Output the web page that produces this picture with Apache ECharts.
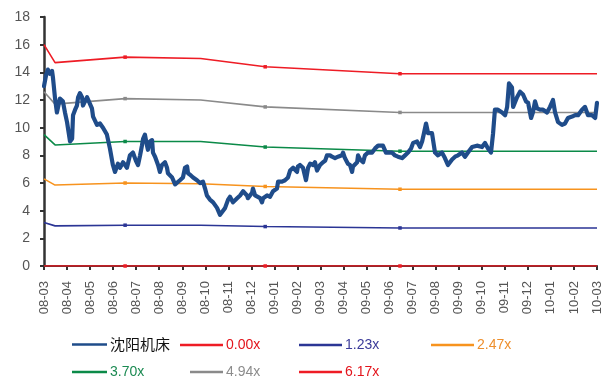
<!DOCTYPE html>
<html><head><meta charset="utf-8">
<script src="https://cdn.jsdelivr.net/npm/echarts@6/dist/echarts.min.js"></script>
<style>html,body{margin:0;padding:0;background:#fff}#c{width:608px;height:378px}</style>
</head><body><div id="c"></div>
<script>
// Month tick labels (x axis, one per month)
const monthLabels = ['08-03','08-04','08-05','08-06','08-07','08-08','08-09','08-10','08-11','08-12',
  '09-01','09-02','09-03','09-04','09-05','09-06','09-07','09-08','09-09','09-10','09-11','09-12',
  '10-01','10-02','10-03'];
const yTickValues = [0,2,4,6,8,10,12,14,16,18];

// 沈阳机床 price: position in months since 08-03, and price
const priceMonths = [0.00,0.09,0.17,0.26,0.35,0.39,0.48,0.56,0.69,0.82,0.91,1.00,1.13,1.22,1.26,1.35,1.43,1.48,1.56,1.65,
  1.69,1.78,1.87,1.95,2.08,2.13,2.30,2.43,2.56,2.73,2.86,2.99,3.08,3.21,3.30,3.43,3.52,3.60,3.73,3.86,
  3.99,4.08,4.17,4.25,4.30,4.38,4.47,4.51,4.60,4.69,4.73,4.82,4.95,5.03,5.12,5.25,5.34,5.38,5.56,5.69,
  5.77,5.90,6.03,6.12,6.21,6.25,6.34,6.47,6.64,6.77,6.90,6.99,7.07,7.20,7.34,7.51,7.64,7.73,7.86,7.99,
  8.07,8.20,8.38,8.51,8.64,8.72,8.81,8.85,9.03,9.07,9.16,9.24,9.38,9.46,9.51,9.68,9.81,9.94,10.11,10.16,
  10.33,10.46,10.59,10.68,10.76,10.81,10.98,11.02,11.11,11.24,11.37,11.46,11.55,11.68,11.76,11.85,11.98,12.11,12.20,12.28,
  12.41,12.50,12.63,12.76,12.93,12.98,13.06,13.19,13.28,13.37,13.41,13.59,13.63,13.72,13.85,13.93,14.06,14.24,14.37,14.50,
  14.58,14.71,14.84,14.93,15.10,15.23,15.36,15.54,15.67,15.80,15.93,16.02,16.19,16.32,16.41,16.49,16.58,16.67,16.84,16.97,
  17.10,17.27,17.40,17.53,17.71,17.84,17.97,18.14,18.27,18.40,18.58,18.79,19.01,19.14,19.27,19.40,19.49,19.57,19.70,19.88,
  20.01,20.10,20.18,20.31,20.36,20.53,20.66,20.79,20.92,21.01,21.14,21.22,21.31,21.40,21.53,21.66,21.83,21.96,22.09,22.18,
  22.31,22.48,22.61,22.74,22.92,23.05,23.18,23.35,23.48,23.61,23.78,23.92,24.00];
const priceValues = [13.0,13.8,14.2,13.9,14.1,13.6,12.1,11.1,12.1,11.9,11.1,10.4,9.0,9.2,10.9,11.3,11.6,12.2,12.5,12.2,
  11.6,11.9,12.2,12.2,11.4,10.8,10.2,10.3,10.0,9.5,8.5,7.3,6.8,7.4,7.1,7.5,7.3,7.1,8.0,8.2,
  7.6,7.3,8.0,8.7,9.2,9.5,8.7,8.4,9.0,9.1,8.2,7.9,7.3,6.8,7.3,7.5,7.1,6.7,6.4,5.9,
  5.9,6.2,6.4,7.1,7.2,6.7,6.6,6.4,6.2,6.0,6.1,5.6,5.1,4.8,4.6,4.2,3.7,3.9,4.2,4.8,
  5.0,4.6,4.9,5.1,5.4,5.5,5.1,4.9,5.3,5.6,5.1,5.0,4.9,4.6,4.9,5.1,5.0,5.4,5.6,6.1,
  6.1,6.2,6.4,6.9,6.9,7.1,6.8,7.2,7.3,7.1,6.2,7.1,7.4,7.3,7.5,6.9,7.3,7.5,7.6,8.0,
  8.0,7.9,7.8,7.9,8.0,8.2,7.8,7.4,7.3,6.8,7.2,7.5,8.0,7.7,7.5,8.0,8.2,8.2,8.5,8.7,
  8.6,8.7,8.2,8.2,8.2,8.0,7.9,7.8,8.0,8.2,8.5,8.9,9.0,8.6,9.0,9.6,10.3,9.6,9.6,8.2,
  8.0,8.2,7.8,7.3,7.7,7.9,8.0,8.2,7.9,8.2,8.6,8.7,8.6,8.9,8.5,8.2,9.6,11.3,11.3,11.1,
  10.9,11.5,13.2,12.9,11.5,12.2,12.6,12.4,11.9,11.8,10.7,11.1,11.9,11.4,11.3,11.3,11.1,11.5,12.0,11.1,
  10.4,10.2,10.3,10.7,10.8,10.9,10.9,11.3,11.5,10.9,10.9,10.7,11.8];

// PE band lines: vertex months and values
const bandMonths = [0, 0.48, 3.52, 6.8, 9.6, 15.45, 24];
const band000 = [0, 0, 0, 0, 0, 0, 0];
const band123 = [3.15, 2.9, 2.95, 2.95, 2.85, 2.75, 2.75];
const band247 = [6.3, 5.85, 6.0, 5.95, 5.75, 5.55, 5.55];
const band370 = [9.5, 8.75, 9.0, 9.0, 8.6, 8.3, 8.3];
const band494 = [12.6, 11.7, 12.1, 12.0, 11.5, 11.1, 11.1];
const band617 = [16.0, 14.7, 15.1, 15.0, 14.4, 13.9, 13.9];
const markedIdx = [2, 4, 5];

const zip = (xs, ys) => xs.map((x, i) => [x, ys[i]]);
const bands = [
  {name: '0.00x', data: band000, color: '#ee1c25', text: '#e3141c'},
  {name: '1.23x', data: band123, color: '#2b3595', text: '#3b3b9a'},
  {name: '2.47x', data: band247, color: '#f7931e', text: '#ee8f2c'},
  {name: '3.70x', data: band370, color: '#0b8a48', text: '#1b8a52'},
  {name: '4.94x', data: band494, color: '#8a8a8a', text: '#8c8c8c'},
  {name: '6.17x', data: band617, color: '#ee1c25', text: '#e3141c'}
];

const series = bands.map(b => ({
  name: b.name, type: 'line', data: zip(bandMonths, b.data),
  symbol: (v, p) => markedIdx.includes(p.dataIndex) ? 'rect' : 'none',
  symbolSize: 3.5, showSymbol: true,
  lineStyle: {color: b.color, width: 1.6}, itemStyle: {color: b.color},
  z: 2, animation: false
}));
series.push({
  name: '沈阳机床', type: 'line', data: zip(priceMonths, priceValues),
  showSymbol: false, symbol: 'none',
  lineStyle: {color: '#1f4c8a', width: 4.2, join: 'round', cap: 'round'},
  itemStyle: {color: '#1f4c8a'}, z: 3, animation: false
});

const legendPos = [
  {name: '沈阳机床', left: 72, top: 337, color: '#111', size: 15, w: 35, lc: '#1f4c8a'},
  {name: '0.00x', left: 180, top: 338, color: bands[0].text, size: 14, w: 43, lc: bands[0].color},
  {name: '1.23x', left: 299, top: 338, color: bands[1].text, size: 14, w: 43, lc: bands[1].color},
  {name: '2.47x', left: 431, top: 338, color: bands[2].text, size: 14, w: 43, lc: bands[2].color},
  {name: '3.70x', left: 72, top: 365, color: bands[3].text, size: 14, w: 35, lc: bands[3].color},
  {name: '4.94x', left: 190, top: 365, color: bands[4].text, size: 14, w: 33, lc: bands[4].color},
  {name: '6.17x', left: 299, top: 365, color: bands[5].text, size: 14, w: 43, lc: bands[5].color}
];
const legend = legendPos.map(l => ({
  data: [{name: l.name, icon: 'rect', itemStyle: {color: l.lc}}],
  left: l.left, top: l.top, itemWidth: l.w, itemHeight: 2.5, padding: 0,
  textStyle: {color: l.color, fontSize: l.size, padding: [0, 0, 0, -2],
    fontFamily: l.name === '沈阳机床' ? 'Noto Sans CJK SC' : 'Liberation Sans'},
  selectedMode: false
}));

const chart = echarts.init(document.getElementById('c'), null, {renderer: 'canvas'});
chart.setOption({
  backgroundColor: '#fff',
  animation: false,
  legend,
  grid: {left: 44, right: 11, top: 17, bottom: 112, containLabel: false},
  xAxis: {
    type: 'value', min: 0, max: 24, interval: 1,
    axisLine: {show: true, lineStyle: {color: '#333', width: 2}},
    axisTick: {show: true, length: 4, lineStyle: {color: '#333', width: 2}},
    axisLabel: {rotate: 90, margin: 15, color: '#555', fontSize: 13, fontFamily: 'Liberation Sans',
      formatter: v => monthLabels[Math.round(v)] || ''},
    splitLine: {show: false}
  },
  yAxis: {
    type: 'value', min: yTickValues[0], max: yTickValues[yTickValues.length - 1], interval: 2,
    axisLine: {show: true, lineStyle: {color: '#333', width: 2.5}},
    axisTick: {show: true, length: 4, lineStyle: {color: '#333', width: 2}},
    axisLabel: {margin: 14, color: '#555', fontSize: 14, fontFamily: 'Liberation Sans'},
    splitLine: {show: false}
  },
  series
});
</script></body></html>
